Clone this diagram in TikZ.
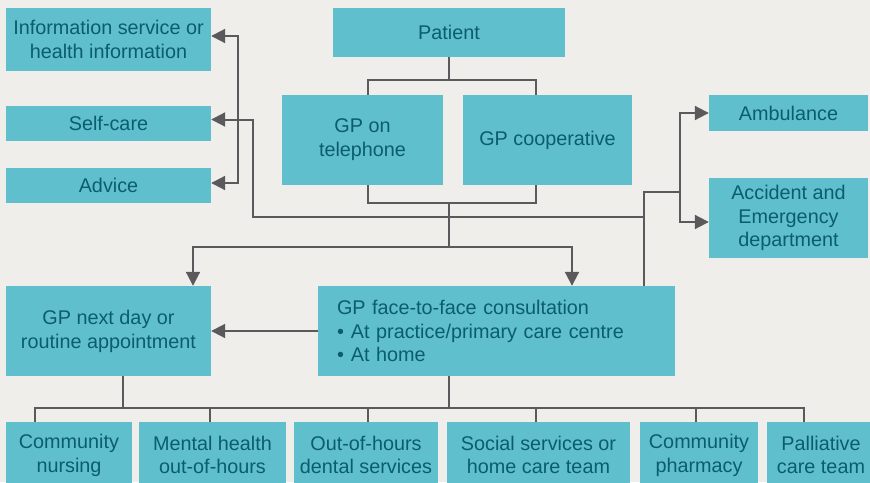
\documentclass[tikz,border=0pt]{standalone}
\usepackage{fontspec}
\setmainfont{Liberation Sans}
\usetikzlibrary{arrows.meta,calc}
\definecolor{bg}{HTML}{EFEEEA}
\definecolor{boxc}{HTML}{5FBFCD}
\definecolor{txt}{HTML}{0B5C70}
\definecolor{ln}{HTML}{5A5A5C}
\begin{document}
\begin{tikzpicture}[x=1pt,y=-1pt,
  box/.style={fill=boxc, text=txt, align=center, inner sep=0pt, font=\fontsize{19.8}{23.8}\selectfont},
  con/.style={draw=ln, line width=2pt},
  arr/.style={con, -{Triangle[length=14pt,width=14pt]}}]
\fill[bg] (0,0) rectangle (870,482);
\useasboundingbox (0,0) rectangle (870,482);
\clip (0,0) rectangle (870,482);
% top nodes
\node[box, minimum width=232pt, minimum height=49pt] (patient) at (449,32.5) {Patient};
\node[box, minimum width=205pt, minimum height=63pt] (info) at (108.5,39.5) {Information service or\\health information};
\node[box, minimum width=205pt, minimum height=35pt] (selfcare) at (108.5,123.5) {Self-care};
\node[box, minimum width=205pt, minimum height=35pt] (advice) at (108.5,185.5) {Advice};
\node[box, minimum width=161pt, minimum height=90pt] (tel) at (362.5,140) {GP on\\telephone};
\node[box, minimum width=169pt, minimum height=90pt] (coop) at (547.5,140) {GP cooperative};
\node[box, minimum width=159pt, minimum height=36pt] (amb) at (788.5,113) {Ambulance};
\node[box, minimum width=159pt, minimum height=80pt] (ae) at (788.5,218) {Accident and\\Emergency\\department};
\node[box, minimum width=205pt, minimum height=90pt] (gpnext) at (108.5,331) {GP next day or\\routine appointment};
\node[box, minimum width=357pt, minimum height=90pt, text width=319pt, align=left, inner xsep=19pt] (f2f) at (496.5,331)
  {GP face-to-face consultation\\\textbullet\hspace{7pt}At practice/primary care centre\\\textbullet\hspace{7pt}At home};
% bottom nodes
\node[box, minimum width=126pt, minimum height=66pt] (cn) at (69,455) {Community\\nursing};
\node[box, minimum width=147pt, minimum height=66pt] (mh) at (212.5,455) {Mental health\\out-of-hours};
\node[box, minimum width=144pt, minimum height=66pt] (ooh) at (366,455) {Out-of-hours\\dental services};
\node[box, minimum width=183pt, minimum height=66pt] (ss) at (538.5,455) {Social services or\\home care team};
\node[box, minimum width=118pt, minimum height=66pt] (cp) at (699,455) {Community\\pharmacy};
\node[box, minimum width=108pt, minimum height=66pt] (pc) at (821,455) {Palliative\\care team};
% connectors: patient to GP tel / coop
\draw[con] (patient.south) -- ++(0,23) coordinate (pj);
\draw[con] ([xshift=5.5pt]tel.north) |- (pj) -| ([xshift=-11.5pt]coop.north);
% from tel/coop down
\coordinate (tj) at (449,203);
\draw[con] ([xshift=5pt]tel.south) |- (tj) -| ([xshift=-12pt]coop.south);
\coordinate (mj) at (449,217);
\draw[con] (tj) -- (mj) -- (449,247) coordinate (dj);
\draw[arr] (dj) -| ([xshift=84.5pt]gpnext.north);
\draw[arr] (dj) -| ([xshift=75.5pt]f2f.north);
% to self-care and bracket
\coordinate (sc) at (253,217);
\coordinate (br) at (238,119.5);
\draw[arr] (mj) -- (sc) |- ([yshift=4pt]selfcare.east);
\draw[arr] (br) |- ([yshift=3.5pt]info.east);
\draw[arr] (br) |- ([yshift=2.5pt]advice.east);
% right side
\coordinate (rm) at (644,217);
\draw[con] (mj) -- (rm);
\draw[con] ([xshift=147.5pt]f2f.north) -- ++(0,-94) coordinate (rj) -- ++(36,0) coordinate (rk);
\draw[arr] (rk) |- (amb.west);
\draw[arr] (rk) |- ([yshift=-4pt]ae.west);
% f2f to gp next
\draw[arr] (f2f.west) -- (gpnext.east);
% bottom bus
\draw[con] ([xshift=-34pt]cn.north) -- ++(0,-14) -| ([xshift=-17pt]pc.north);
\draw[con] ([xshift=14.5pt]gpnext.south) -- ++(0,32);
\draw[con] ([xshift=-47.5pt]f2f.south) -- ++(0,32);
\draw[con] ([xshift=-2.5pt]mh.north) -- ++(0,-14);
\draw[con] ([xshift=2pt]ooh.north) -- ++(0,-14);
\draw[con] ([xshift=-2.5pt]ss.north) -- ++(0,-14);
\draw[con] ([xshift=-3pt]cp.north) -- ++(0,-14);
\end{tikzpicture}
\end{document}
